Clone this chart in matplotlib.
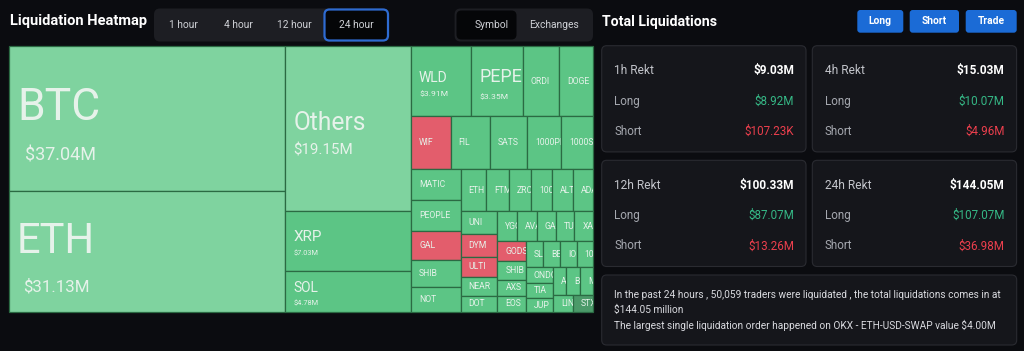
import matplotlib
matplotlib.use("Agg")
import matplotlib.pyplot as plt
from matplotlib.patches import Rectangle, FancyBboxPatch

plt.rcParams['font.family'] = ['Roboto', 'DejaVu Sans']

# 24 hour liquidations by symbol, in $M
symbols = ["BTC", "ETH", "Others", "XRP", "SOL", "WLD", "PEPE", "ORDI", "DOGE",
           "WIF", "FIL", "SATS", "1000PEPE", "1000SATS",
           "MATIC", "PEOPLE", "GAL", "SHIB", "NOT",
           "ETH", "FTM", "ZRO", "1000BONK", "ALT", "ADA",
           "UNI", "DYM", "ULTI", "NEAR", "DOT",
           "YGG", "AVAX", "GALA", "TURBO", "XAI",
           "GODS", "SHIB", "AXS", "EOS",
           "SLERF", "BEAM", "IO", "1000RATS",
           "ONDO", "TIA", "JUP",
           "ARB", "BNB", "MEW",
           "LINK", "STX"]
liq_values = [37.04, 31.13, 19.15, 7.03, 4.78, 3.91, 3.35, 2.40, 2.18,
              1.93, 1.90, 1.81, 1.66, 1.55,
              1.44, 1.41, 1.36, 1.22, 1.15,
              1.02, 0.89, 0.87, 0.85, 0.81, 0.80,
              0.79, 0.78, 0.66, 0.65, 0.56,
              0.55, 0.545, 0.53, 0.525, 0.52,
              0.515, 0.48, 0.43, 0.42,
              0.415, 0.41, 0.40, 0.395,
              0.39, 0.385, 0.35,
              0.345, 0.34, 0.335,
              0.32, 0.315]
# symbols where shorts dominated (red cells)
short_heavy = ["WIF", "GAL", "DYM", "ULTI", "GODS"]

# Total liquidations cards, in $M
periods = ["1h", "4h", "12h", "24h"]
total_rekt = [9.03, 15.03, 100.33, 144.05]
long_rekt = [8.92, 10.07, 87.07, 107.07]
short_rekt = [0.10723, 4.96, 13.26, 36.98]

time_tabs = ["1 hour", "4 hour", "12 hour", "24 hour"]
summary_lines = [
    "In the past 24 hours , 50,059 traders were liquidated , the total liquidations comes in at",
    "$144.05 million",
    "The largest single liquidation order happened on OKX - ETH-USD-SWAP value $4.00M",
]

BG = '#0b0c10'
CARD = '#15161b'
GREEN_LIGHT = '#7fd39f'
GREEN = '#5cc585'
GREEN_DARK = '#4b9a69'
RED = '#e35d6c'
EDGE = '#2b6a43'
LABEL = '#e6f2ea'

# bigger label styles for the main cells: (name size, value size) in pt
big_labels = {"BTC": (32, 13), "ETH": (30, 12.2), "Others": (17.7, 10.9),
              "XRP": (11, 5.3), "SOL": (10, 5.3), "WLD": (10, 6.1), "PEPE": (13, 6.1)}


def worst(areas, fixed, ratio):
    s = sum(areas)
    f = fixed * fixed * ratio
    return max(f * max(areas) / (s * s), s * s / (f * min(areas)))


def squarify(values, x, y, w, h, ratio=0.5 * (1 + 5 ** 0.5)):
    # echarts-style squarified treemap
    total = sum(values)
    areas = [v / total * w * h for v in values]
    rect = [x, y, w, h]
    out = []

    def position(row, fixed, flush):
        horiz = fixed == rect[2]
        s = sum(areas[i] for i in row)
        other = s / fixed if fixed else 0
        side = rect[3] if horiz else rect[2]
        if flush or other > side:
            other = side
        last = rect[0] if horiz else rect[1]
        end = (rect[0] + rect[2]) if horiz else (rect[1] + rect[3])
        for k, i in enumerate(row):
            step = areas[i] / other
            remain = end - last
            step = remain if (k == len(row) - 1 or remain < step) else step
            if horiz:
                out.append((i, last, rect[1], step, other))
            else:
                out.append((i, rect[0], last, other, step))
            last += step
        if horiz:
            rect[1] += other
            rect[3] -= other
        else:
            rect[0] += other
            rect[2] -= other

    fixed = min(w, h)
    best = float('inf')
    row = []
    i = 0
    while i < len(areas):
        row.append(i)
        score = worst([areas[j] for j in row], fixed, ratio)
        if score <= best:
            i += 1
            best = score
        else:
            row.pop()
            position(row, fixed, False)
            fixed = min(rect[2], rect[3])
            row = []
            best = float('inf')
    if row:
        position(row, fixed, True)
    return sorted(out)


def pt2px(pt):
    return pt * 100 / 72


fig = plt.figure(figsize=(10.24, 3.51), dpi=100, facecolor=BG)
ax = fig.add_axes([0, 0, 1, 1])
ax.set_xlim(0, 1024)
ax.set_ylim(351, 0)
ax.axis('off')
ax.set_facecolor(BG)

# ---- header left
ax.text(10, 21.5, "Liquidation Heatmap", color='white', fontsize=10.5, fontweight='bold', va='center')
ax.add_patch(FancyBboxPatch((154, 8.5), 234, 33, boxstyle="round,pad=0,rounding_size=6",
                            fc='#1d1e23', ec='none'))
ax.add_patch(FancyBboxPatch((324.5, 9.5), 63.5, 31, boxstyle="round,pad=0,rounding_size=5",
                            fc='#050608', ec='#2e6bd1', lw=1.6))
for lab, cx in zip(time_tabs, [183.7, 238, 294, 356]):
    ax.text(cx, 25.5, lab, color='#cfd1d6', fontsize=7.4, ha='center', va='center')

ax.add_patch(FancyBboxPatch((454.6, 8.5), 138.4, 33, boxstyle="round,pad=0,rounding_size=6",
                            fc='#1d1e23', ec='none'))
ax.add_patch(FancyBboxPatch((456.5, 10.5), 60, 29, boxstyle="round,pad=0,rounding_size=5",
                            fc='#050608', ec='none'))
ax.text(491.5, 25.5, "Symbol", color='#cfd1d6', fontsize=7.4, ha='center', va='center')
ax.text(553.8, 25.5, "Exchanges", color='#cfd1d6', fontsize=7.4, ha='center', va='center')

# ---- treemap
tx, ty, tw, th = 9, 46, 584, 266
for i, x, y, w, h in squarify(liq_values, tx, ty, tw, th):
    name = symbols[i]
    if i < 3:
        fc = GREEN_LIGHT
    elif name in short_heavy:
        fc = RED
    elif i == len(symbols) - 1:
        fc = GREEN_DARK
    else:
        fc = GREEN
    rect = Rectangle((x, y), w, h, fc=fc, ec=EDGE, lw=0.9)
    ax.add_patch(rect)
    cy = y + h / 2
    if name in big_labels and i < 7:
        ns, vs = big_labels[name]
        npx, vpx = pt2px(ns), pt2px(vs)
        gap = 0.95 * npx
        shift = 0.25 * npx
        vx = 8 + max(0, npx - 30) * 0.55
        t1 = ax.text(x + 8, cy - gap / 2 + shift, name, color=LABEL, fontsize=ns,
                     va='center', ha='left', clip_on=True)
        t2 = ax.text(x + vx, cy + gap / 2 + shift + 0.3 * vpx, "$%.2fM" % liq_values[i],
                     color=LABEL, fontsize=vs, va='center', ha='left', clip_on=True)
        labels = (t1, t2)
    else:
        labels = (ax.text(x + 8, cy, name, color=LABEL, fontsize=6.2, va='center',
                          ha='left', clip_on=True),)
    for t in labels:
        t.set_clip_path(rect)

# ---- right panel
ax.text(601.7, 21.7, "Total Liquidations", color='white', fontsize=10.2, fontweight='bold', va='center')
for lab, x0, x1 in [("Long", 857.3, 903.3), ("Short", 909.7, 959), ("Trade", 965.7, 1016.7)]:
    ax.add_patch(FancyBboxPatch((x0, 10), x1 - x0, 22.7, boxstyle="round,pad=0,rounding_size=3",
                                fc='#1b6bd6', ec='none'))
    ax.text((x0 + x1) / 2, 21.5, lab, color='white', fontsize=7.4, fontweight='bold',
            ha='center', va='center')


def money(v):
    return "$%.2fK" % (v * 1000) if v < 1 else "$%.2fM" % v


card_x = [601.7, 812.3, 601.7, 812.3]
card_y = [45.7, 45.7, 160.3, 160.3]
cw, ch = 204.3, 106.2
for k in range(4):
    x0, y0 = card_x[k], card_y[k]
    ax.add_patch(FancyBboxPatch((x0, y0), cw, ch, boxstyle="round,pad=0,rounding_size=5",
                                fc=CARD, ec='#2a2b31', lw=0.8))
    lx, rx = x0 + 12.5, x0 + cw - 12
    ax.text(lx, y0 + 25.2, periods[k] + " Rekt", color='#c3c5cb', fontsize=8.6, va='center')
    ax.text(rx, y0 + 25.2, money(total_rekt[k]), color='white', fontsize=8.6,
            fontweight='bold', va='center', ha='right')
    ax.text(lx, y0 + 55.5, "Long", color='#a6a9b0', fontsize=8.4, va='center')
    ax.text(rx, y0 + 55.5, money(long_rekt[k]), color='#35b886', fontsize=8.4,
            va='center', ha='right')
    ax.text(lx, y0 + 85.6, "Short", color='#a6a9b0', fontsize=8.4, va='center')
    ax.text(rx, y0 + 85.6, money(short_rekt[k]), color='#ec3f4d', fontsize=8.4,
            va='center', ha='right')

ax.add_patch(FancyBboxPatch((601.7, 275), 415, 70, boxstyle="round,pad=0,rounding_size=5",
                            fc=CARD, ec='#2a2b31', lw=0.8))
for k, line in enumerate(summary_lines):
    ax.text(614, 295 + 15 * k, line, color='#d9dadf', fontsize=7.25, va='center')

fig.savefig("out.png", dpi=100, facecolor=BG)
